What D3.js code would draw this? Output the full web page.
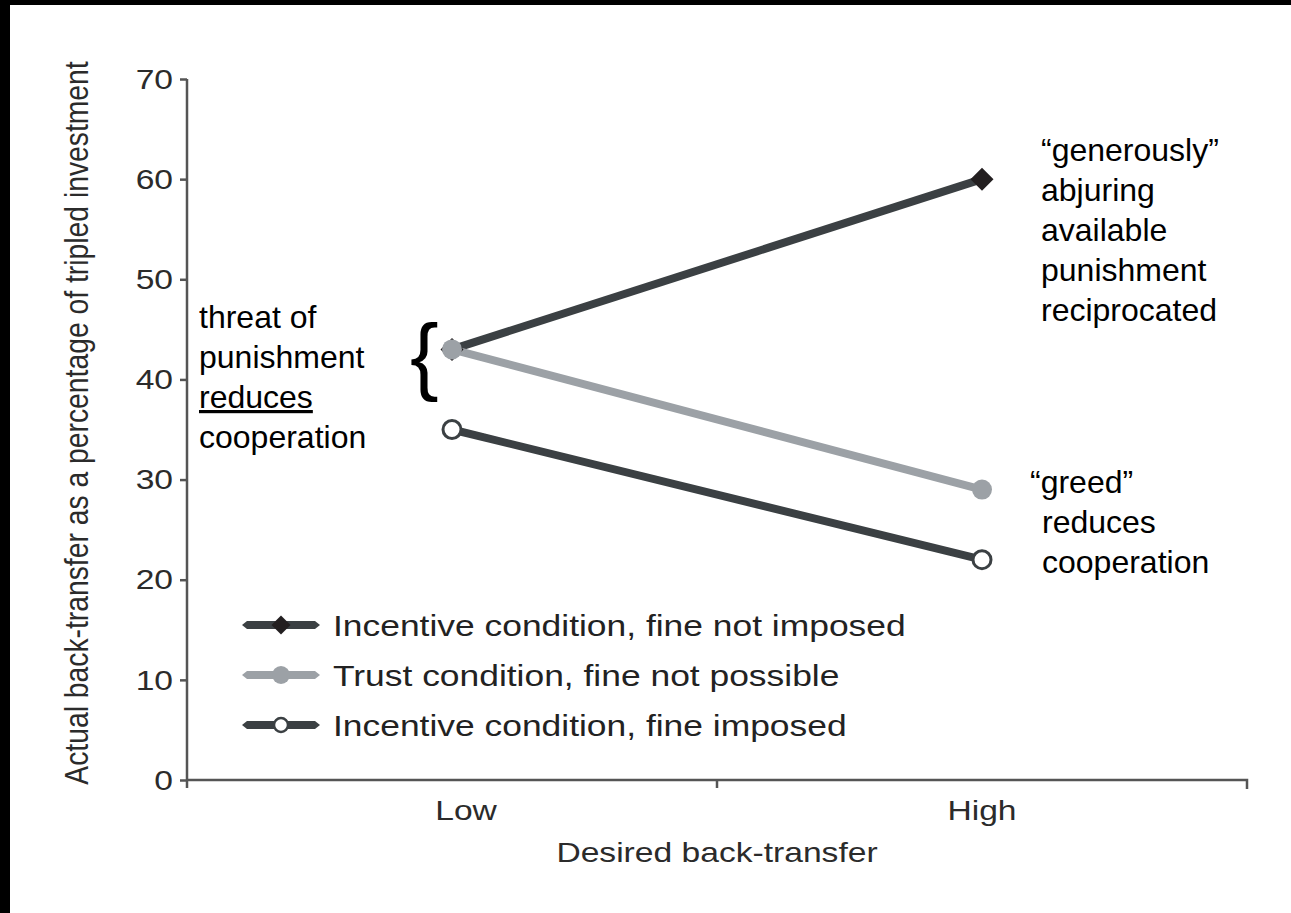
<!DOCTYPE html>
<html>
<head>
<meta charset="utf-8">
<script src="https://cdn.jsdelivr.net/npm/d3@7"></script>
<style>
  body { margin: 0; background: #000; }
  svg { display: block; }
  text { font-family: "Liberation Sans", Arial, Helvetica, sans-serif; }
</style>
</head>
<body>
<div id="chart"></div>
<script>
// data
const conditions = ["Low", "High"]
const yTicks = [0, 10, 20, 30, 40, 50, 60, 70]
const seriesNames = [
  "Incentive condition, fine not imposed",
  "Trust condition, fine not possible",
  "Incentive condition, fine imposed"
]
const notImposed = [43, 60]
const trust = [43, 29]
const imposed = [35, 22]

const width = 1291
const height = 913

const svg = d3.select('#chart').append('svg')
  .attr('width', width).attr('height', height)

// white page, black strip top and left
svg.append('rect').attr('x', 10).attr('y', 5)
  .attr('width', width - 10).attr('height', height - 5).attr('fill', '#fff')

const plotLeft = 187, plotRight = 1247, plotTop = 79, plotBottom = 780

const x = d3.scaleBand().domain(conditions).range([plotLeft, plotRight])
const y = d3.scaleLinear().domain([0, 70]).range([plotBottom, plotTop])

const axisColor = '#555'
const textColor = '#2b2b2b'
const stretchX = 1.2 // the source figure is a bit wider than it is tall

// widen text horizontally like the scanned figure
function stretch(sel, s) {
  sel.each(function() {
    const w = this.getComputedTextLength()
    d3.select(this).attr('textLength', w * s).attr('lengthAdjust', 'spacingAndGlyphs')
  })
}

// y axis
const yAxis = svg.append('g')
  .attr('transform', 'translate(' + plotLeft + ',0)')
  .call(d3.axisLeft(y).tickValues(yTicks).tickSize(7).tickPadding(7).tickSizeOuter(0))
yAxis.attr('font-family', null).attr('font-size', null)
yAxis.select('.domain').attr('stroke', axisColor).attr('stroke-width', 2.5)
  .attr('d', 'M0,' + plotTop + 'V' + (plotBottom + 8))
yAxis.selectAll('.tick line').attr('stroke', axisColor).attr('stroke-width', 2.5)
yAxis.selectAll('.tick text').attr('font-size', 28).attr('fill', textColor)
  .attr('dy', '0.33em').call(stretch, stretchX)

// x axis, ticks at the band edges
const xAxis = svg.append('g')
  .attr('transform', 'translate(0,' + plotBottom + ')')
  .call(d3.axisBottom(x).tickSize(0))
xAxis.attr('font-family', null).attr('font-size', null)
xAxis.select('.domain').attr('stroke', axisColor).attr('stroke-width', 2.5)
  .attr('d', 'M' + plotLeft + ',0H' + plotRight + 'V9')
xAxis.selectAll('.tick text').attr('font-size', 28).attr('fill', textColor)
  .attr('y', 40).attr('dy', 0)
  .attr('dx', d => d === 'Low' ? 14 : 0) // "Low" sits a little right of centre in the source
  .call(stretch, stretchX)
xAxis.append('line')
  .attr('x1', x('High')).attr('x2', x('High'))
  .attr('y1', 0).attr('y2', 8)
  .attr('stroke', axisColor).attr('stroke-width', 2.5)

// axis titles
svg.append('text')
  .attr('x', (plotLeft + plotRight) / 2).attr('y', 862)
  .attr('text-anchor', 'middle').attr('font-size', 28).attr('fill', textColor)
  .text('Desired back-transfer')
  .call(stretch, stretchX)
svg.append('text')
  .attr('transform', 'translate(88,423) rotate(-90) scale(1,' + stretchX + ')')
  .attr('text-anchor', 'middle').attr('font-size', 28.3).attr('fill', textColor)
  .text('Actual back-transfer as a percentage of tripled investment')

const dark = '#3b4043'
const gray = '#9ca1a6'
const cx = d => x(d) + x.bandwidth() / 2

const line = d3.line().x((d, i) => cx(conditions[i])).y(d => y(d))

svg.append('path').datum(imposed).attr('d', line)
  .attr('fill', 'none').attr('stroke', dark).attr('stroke-width', 8)
svg.append('path').datum(notImposed).attr('d', line)
  .attr('fill', 'none').attr('stroke', dark).attr('stroke-width', 8)
svg.append('path').datum(trust).attr('d', line)
  .attr('fill', 'none').attr('stroke', gray).attr('stroke-width', 8)

const diamond = d3.symbol().type(d3.symbolSquare).size(265)
svg.selectAll('.dia').data(notImposed).enter().append('path')
  .attr('class', 'dia')
  .attr('d', diamond)
  .attr('transform', (d, i) => 'translate(' + cx(conditions[i]) + ',' + y(d) + ') rotate(45)')
  .attr('fill', '#231f20')
svg.selectAll('.tr').data(trust).enter().append('circle')
  .attr('class', 'tr')
  .attr('cx', (d, i) => cx(conditions[i])).attr('cy', d => y(d))
  .attr('r', 10).attr('fill', gray)
svg.selectAll('.im').data(imposed).enter().append('circle')
  .attr('class', 'im')
  .attr('cx', (d, i) => cx(conditions[i])).attr('cy', d => y(d))
  .attr('r', 9).attr('fill', '#fff').attr('stroke', dark).attr('stroke-width', 3)

// legend
const legendY = [625, 675, 725]
const legendColors = [dark, gray, dark]
const lx1 = 242, lx2 = 320, lmid = 281
seriesNames.forEach(function(name, i) {
  const g = svg.append('g').attr('transform', 'translate(0,' + legendY[i] + ')')
  g.append('path')
    .attr('d', 'M' + lx1 + ',0L' + (lx1 + 5) + ',-4H' + (lx2 - 5) + 'L' + lx2 + ',0L' + (lx2 - 5) + ',4H' + (lx1 + 5) + 'Z')
    .attr('fill', legendColors[i])
  if (i === 0) {
    g.append('path').attr('d', d3.symbol().type(d3.symbolSquare).size(180))
      .attr('transform', 'translate(' + lmid + ',0) rotate(45)').attr('fill', '#231f20')
  } else if (i === 1) {
    g.append('circle').attr('cx', lmid).attr('r', 9).attr('fill', gray)
  } else {
    g.append('circle').attr('cx', lmid).attr('r', 7).attr('fill', '#fff')
      .attr('stroke', dark).attr('stroke-width', 2.5)
  }
  g.append('text').attr('x', 333).attr('y', 0).attr('dy', '0.36em')
    .attr('font-size', 29.5).attr('fill', '#222').text(name)
    .call(stretch, stretchX)
})

// annotations (added on top of the figure, plain Arial)
function note(lines, xPos, baseline) {
  const t = svg.append('text').attr('font-size', 32).attr('fill', '#000')
  lines.forEach(function(l, i) {
    const ts = t.append('tspan').attr('x', l.dx ? xPos + l.dx : xPos)
      .attr('y', baseline + i * 40).text(l.text)
    if (l.under) ts.attr('text-decoration', 'underline')
  })
}
note([{text: 'threat of'}, {text: 'punishment'}, {text: 'reduces', under: true}, {text: 'cooperation'}], 199, 328)
note([{text: '\u201cgenerously\u201d'}, {text: 'abjuring'}, {text: 'available'}, {text: 'punishment'}, {text: 'reciprocated'}], 1041, 161)
note([{text: '\u201cgreed\u201d'}, {text: 'reduces', dx: 12}, {text: 'cooperation', dx: 12}], 1030, 493)

svg.append('text').attr('x', 410).attr('y', 384)
  .attr('font-size', 86).attr('fill', '#000').text('{')
</script>
</body>
</html>
